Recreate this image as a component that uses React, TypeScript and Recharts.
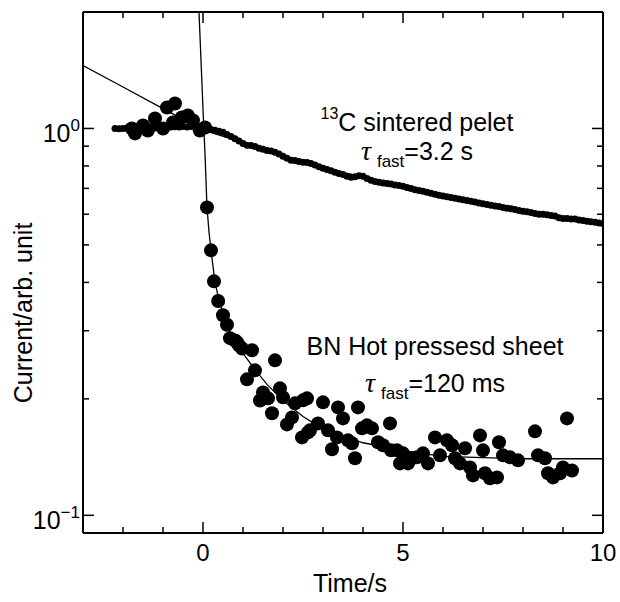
import { ComposedChart, Line, Scatter, XAxis, YAxis } from "recharts";

// 13C sintered pellet: dense small-dot trace
const c13Time = [
    -2.2, -2.1, -2.0, -1.9, -1.8, -1.7, -1.6, -1.5, -1.4, -1.3, -1.2, -1.1, -1.0, -0.9, -0.8, -0.7, -0.6, -0.5, -0.4,
    -0.3, -0.2, -0.1, 0.0, 0.1, 0.2, 0.3, 0.4, 0.5, 0.6, 0.7, 0.8, 0.9, 1.0, 1.1, 1.2, 1.3, 1.4, 1.5, 1.6, 1.7, 1.8,
    1.9, 2.0, 2.1, 2.2, 2.3, 2.4, 2.5, 2.6, 2.7, 2.8, 2.9, 3.0, 3.1, 3.2, 3.3, 3.4, 3.5, 3.6, 3.7, 3.8, 3.9, 4.0, 4.1,
    4.2, 4.3, 4.4, 4.5, 4.6, 4.7, 4.8, 4.9, 5.0, 5.1, 5.2, 5.3, 5.4, 5.5, 5.6, 5.7, 5.8, 5.9, 6.0, 6.1, 6.2, 6.3, 6.4,
    6.5, 6.6, 6.7, 6.8, 6.9, 7.0, 7.1, 7.2, 7.3, 7.4, 7.5, 7.6, 7.7, 7.8, 7.9, 8.0, 8.1, 8.2, 8.3, 8.4, 8.5, 8.6, 8.7,
    8.8, 8.9, 9.0, 9.1, 9.2, 9.3, 9.4, 9.5, 9.6, 9.7, 9.8, 9.9, 10.0,
];
const c13Current = [
    1.0, 0.998, 1.0, 1.002, 0.999, 1.001, 1.003, 1.0, 1.004, 1.006, 1.003, 1.007, 1.008, 1.005, 1.009, 1.01, 1.008,
    1.011, 1.009, 1.012, 1.01, 1.008, 1.005, 1.0, 0.994, 0.989, 0.983, 0.977, 0.965, 0.953, 0.94, 0.928, 0.915, 0.905,
    0.904, 0.898, 0.889, 0.883, 0.877, 0.874, 0.868, 0.859, 0.848, 0.838, 0.828, 0.826, 0.822, 0.818, 0.817, 0.812,
    0.804, 0.796, 0.789, 0.783, 0.777, 0.77, 0.765, 0.76, 0.752, 0.748, 0.75, 0.755, 0.752, 0.742, 0.735, 0.729,
    0.726, 0.723, 0.721, 0.718, 0.714, 0.712, 0.709, 0.704, 0.699, 0.694, 0.691, 0.688, 0.684, 0.68, 0.676, 0.672,
    0.669, 0.666, 0.663, 0.66, 0.657, 0.654, 0.651, 0.648, 0.645, 0.642, 0.639, 0.636, 0.633, 0.63, 0.628, 0.625,
    0.622, 0.62, 0.617, 0.614, 0.611, 0.609, 0.606, 0.603, 0.6, 0.6, 0.598, 0.596, 0.594, 0.588, 0.585, 0.585, 0.583,
    0.583, 0.58, 0.578, 0.576, 0.574, 0.572, 0.57, 0.568,
];

// BN hot pressed sheet: big circles
const bnTime = [
    -1.78, -1.7, -1.5, -1.38, -1.2, -1.0, -0.9, -0.7, -0.75, -0.53, -0.38, -0.25, -0.08, 0.05, 0.1, 0.2, 0.275, 0.38,
    0.5, 0.6, 0.675, 0.8, 0.85, 0.9, 0.975, 1.225, 1.8, 1.3, 1.1, 1.5, 1.425, 1.625, 1.725, 1.925, 2.0, 2.3, 2.225,
    2.1, 2.5, 2.475, 2.6, 2.625, 2.675, 2.875, 3.0, 3.125, 3.225, 3.375, 3.5, 3.35, 3.625, 3.725, 3.8, 3.875, 3.975,
    4.1, 4.225, 4.675, 4.375, 4.5, 4.7, 4.85, 4.925, 5.0, 5.125, 5.225, 5.35, 5.5, 5.625, 5.8, 5.925, 6.1, 6.225, 6.3,
    6.425, 6.55, 6.675, 6.75, 6.925, 7.0, 7.05, 7.175, 7.35, 7.4, 7.5, 7.675, 7.875, 8.3, 8.375, 8.55, 8.625, 8.75,
    8.925, 9.0, 9.225, 9.1,
];
const bnCurrent = [
    1.0, 0.971, 1.018, 0.988, 1.061, 1.0, 1.133, 1.16, 1.036, 1.067, 1.08, 1.049, 0.988, 1.006, 0.625, 0.484, 0.4025,
    0.358, 0.329, 0.311, 0.287, 0.283, 0.28, 0.275, 0.27, 0.267, 0.2515, 0.237, 0.2246, 0.2078, 0.198, 0.2006, 0.1835,
    0.2129, 0.2018, 0.1947, 0.1791, 0.1718, 0.1982, 0.159, 0.2006, 0.1638, 0.1658, 0.1728, 0.1959, 0.1658, 0.1481,
    0.1901, 0.178, 0.159, 0.1562, 0.1535, 0.1404, 0.1901, 0.1678, 0.1708, 0.1678, 0.1728, 0.1544, 0.1517, 0.1472,
    0.1472, 0.1362, 0.1446, 0.1362, 0.1404, 0.1412, 0.1446, 0.1362, 0.159, 0.1429, 0.1562, 0.1517, 0.1404, 0.1362,
    0.149, 0.133, 0.1268, 0.1609, 0.1472, 0.1284, 0.1246, 0.1253, 0.1544, 0.1429, 0.1412, 0.1387, 0.1648, 0.1429,
    0.1404, 0.1284, 0.1253, 0.1284, 0.133, 0.1306, 0.178,
];

// fitted curves
const bnFitTime = [
    -0.2, -0.125, -0.1, -0.05, 0.0, 0.05, 0.1, 0.15, 0.2, 0.3, 0.4, 0.5, 0.6, 0.8, 1.0, 1.3, 1.6, 2.0, 2.5, 3.0, 3.5,
    4.0, 5.0, 6.0, 7.0, 8.0, 10.0,
];
const bnFitCurrent = [
    3.0, 2.3, 2.0, 1.5, 1.12, 0.86, 0.625, 0.54, 0.484, 0.4, 0.36, 0.333, 0.31, 0.28, 0.262, 0.238, 0.218, 0.198,
    0.18, 0.167, 0.16, 0.154, 0.147, 0.142, 0.141, 0.14, 0.14,
];
const c13FitTime = [-3, -2, -1, 0, 1, 2, 3, 4, 5, 6, 7, 8, 9, 10];
const c13FitCurrent = [1.455, 1.28, 1.125, 0.99, 0.92, 0.85, 0.79, 0.75, 0.708, 0.669, 0.638, 0.612, 0.588, 0.568];

const xTicks = [-3, -2, -1, 0, 1, 2, 3, 4, 5, 6, 7, 8, 9, 10];
const xMajor = [0, 5, 10];
const yTicks = [0.1, 0.2, 0.3, 0.4, 0.5, 0.6, 0.7, 0.8, 0.9, 1, 2];
const yMajor = [0.1, 1];
const yExponent: Record<string, string> = { "0.1": "\u22121", "1": "0" };

const FONT = '"Liberation Sans", Arial, Helvetica, sans-serif';
const SERIF = '"Liberation Serif", "Times New Roman", serif';

const c13Data = c13Time.map((t, i) => ({ t, v: c13Current[i] }));
const bnData = bnTime.map((t, i) => ({ t, v: bnCurrent[i] }));
const bnFit = bnFitTime.map((t, i) => ({ t, v: bnFitCurrent[i] }));
const c13Fit = c13FitTime.map((t, i) => ({ t, v: c13FitCurrent[i] }));

type Side = "left" | "right" | "top" | "bottom";

function AxisTick(props: any) {
    const { x, y, payload, side } = props as { x: number; y: number; payload: { value: number }; side: Side };
    const v = payload.value;
    const vertical = side === "left" || side === "right";
    const major = vertical ? yMajor.includes(v) : xMajor.includes(v);
    const len = major ? 11 : 6;

    let x2 = x;
    let y2 = y;
    if (side === "left") x2 = x + len;
    if (side === "right") x2 = x - len;
    if (side === "bottom") y2 = y - len;
    if (side === "top") y2 = y + len;

    let label = null;
    if (side === "left" && yExponent[String(v)] !== undefined) {
        label = (
            <text x={x - 3} y={y + 14} textAnchor="end" fontSize={25} fontFamily={FONT} fill="#000">
                10
                <tspan fontSize={17} dy={-11}>
                    {yExponent[String(v)]}
                </tspan>
            </text>
        );
    }
    if (side === "bottom" && major) {
        label = (
            <text x={x} y={y + 28} textAnchor="middle" fontSize={24} fontFamily={FONT} fill="#000">
                {v}
            </text>
        );
    }

    return (
        <g>
            <line x1={x} y1={y} x2={x2} y2={y2} stroke="#000" strokeWidth={1.5} />
            {label}
        </g>
    );
}

const SmallDot = (p: any) => <circle cx={p.cx} cy={p.cy} r={3.5} fill="#000" />;
const BigDot = (p: any) => <circle cx={p.cx} cy={p.cy} r={7} fill="#000" />;

export default function App() {
    const axisLine = { stroke: "#000", strokeWidth: 2 };

    return (
        <div style={{ position: "absolute", left: 0, top: 0, width: 620, height: 602, background: "#fff" }}>
            <ComposedChart width={620} height={602} margin={{ top: 0, right: 0, bottom: 0, left: 0 }}>
                <XAxis
                    xAxisId="b"
                    dataKey="t"
                    type="number"
                    domain={[-3, 10]}
                    ticks={xTicks}
                    interval={0}
                    allowDataOverflow
                    height={69}
                    tickSize={0}
                    tickMargin={0}
                    tickLine={false}
                    axisLine={axisLine}
                    tick={(p: any) => <AxisTick {...p} side="bottom" />}
                />
                <XAxis
                    xAxisId="t"
                    orientation="top"
                    dataKey="t"
                    type="number"
                    domain={[-3, 10]}
                    ticks={xTicks}
                    interval={0}
                    allowDataOverflow
                    height={12}
                    tickSize={0}
                    tickMargin={0}
                    tickLine={false}
                    axisLine={axisLine}
                    tick={(p: any) => <AxisTick {...p} side="top" />}
                />
                <YAxis
                    yAxisId="l"
                    dataKey="v"
                    type="number"
                    scale="log"
                    domain={[0.09, 2]}
                    ticks={yTicks}
                    interval={0}
                    allowDataOverflow
                    width={83}
                    tickSize={0}
                    tickMargin={0}
                    tickLine={false}
                    axisLine={axisLine}
                    tick={(p: any) => <AxisTick {...p} side="left" />}
                />
                <YAxis
                    yAxisId="r"
                    orientation="right"
                    dataKey="v"
                    type="number"
                    scale="log"
                    domain={[0.09, 2]}
                    ticks={yTicks}
                    interval={0}
                    allowDataOverflow
                    width={17}
                    tickSize={0}
                    tickMargin={0}
                    tickLine={false}
                    axisLine={axisLine}
                    tick={(p: any) => <AxisTick {...p} side="right" />}
                />
                <Line
                    xAxisId="b"
                    yAxisId="l"
                    data={c13Fit}
                    dataKey="v"
                    type="linear"
                    stroke="#000"
                    strokeWidth={1.3}
                    dot={false}
                    isAnimationActive={false}
                />
                <Line
                    xAxisId="b"
                    yAxisId="l"
                    data={bnFit}
                    dataKey="v"
                    type="linear"
                    stroke="#000"
                    strokeWidth={1.3}
                    dot={false}
                    isAnimationActive={false}
                />
                <Scatter xAxisId="b" yAxisId="l" data={c13Data} shape={SmallDot} isAnimationActive={false} />
                <Scatter xAxisId="b" yAxisId="l" data={bnData} shape={BigDot} isAnimationActive={false} />
            </ComposedChart>

            <svg
                width={620}
                height={602}
                style={{ position: "absolute", left: 0, top: 0, pointerEvents: "none" }}
                fontFamily={FONT}
                fill="#000"
            >
                <text x={417} y={131} fontSize={25} textAnchor="middle">
                    <tspan fontSize={16} dy={-12}>
                        13
                    </tspan>
                    <tspan dy={12}>C sintered pelet</tspan>
                </text>
                <text x={417} y={160} fontSize={25} textAnchor="middle">
                    <tspan fontFamily={SERIF} fontStyle="italic" fontSize={28}>
                        τ
                    </tspan>
                    <tspan fontSize={17} dx={6} dy={7}>
                        fast
                    </tspan>
                    <tspan dy={-7}>=3.2 s</tspan>
                </text>
                <text x={435} y={355} fontSize={25} textAnchor="middle">
                    BN Hot pressesd sheet
                </text>
                <text x={435} y={392} fontSize={25} textAnchor="middle">
                    <tspan fontFamily={SERIF} fontStyle="italic" fontSize={28}>
                        τ
                    </tspan>
                    <tspan fontSize={17} dx={6} dy={7}>
                        fast
                    </tspan>
                    <tspan dy={-7}>=120 ms</tspan>
                </text>
                <text x={350} y={592} fontSize={25} textAnchor="middle">
                    Time/s
                </text>
                <text x={32} y={313} fontSize={25} textAnchor="middle" transform="rotate(-90 32 313)">
                    Current/arb. unit
                </text>
            </svg>
        </div>
    );
}
